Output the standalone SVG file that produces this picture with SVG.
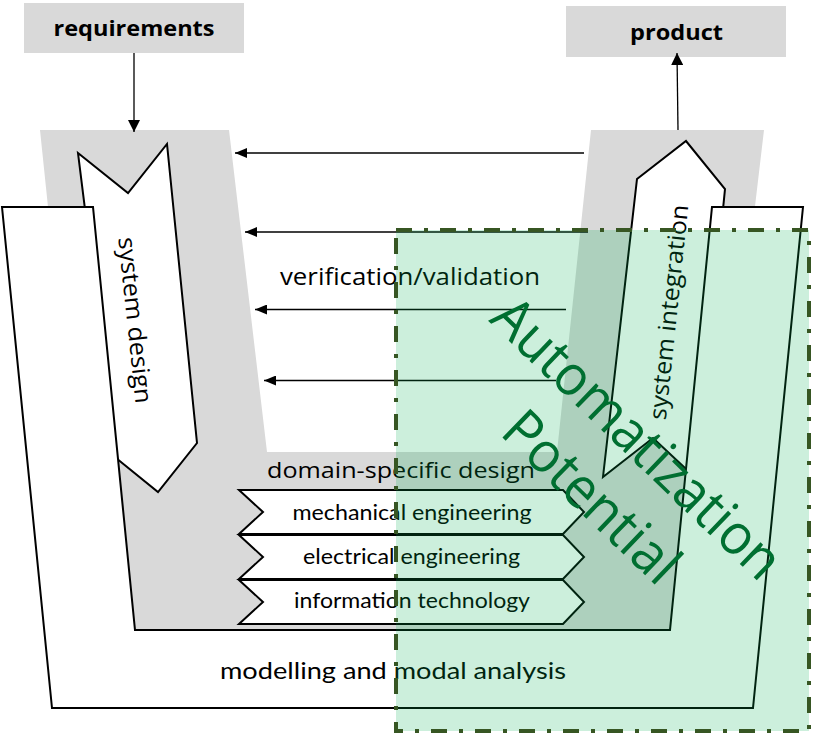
<svg xmlns="http://www.w3.org/2000/svg" width="838" height="735" viewBox="0 0 838 735">
<style>
.box{fill:#d9d9d9;stroke:none}
.shape{fill:#fff;stroke:#000;stroke-width:2;stroke-linejoin:miter}
.conn{stroke:#000;stroke-width:1.3;fill:none}
.t{font-family:"Open Sans","DejaVu Sans",sans-serif;fill:#000}
.c{font-family:Lato,"Liberation Sans",sans-serif;fill:#000}
.b{font-family:"Open Sans","DejaVu Sans",sans-serif;font-weight:bold;fill:#000}
</style>
<defs>
<marker id="ah" markerWidth="12" markerHeight="10" refX="12" refY="5" orient="auto" markerUnits="userSpaceOnUse"><path d="M0,0 L12,5 L0,10 z" fill="#000"/></marker>
<marker id="ahg" markerWidth="12" markerHeight="12" refX="12" refY="6" orient="auto" markerUnits="userSpaceOnUse"><path d="M0,0 L12,6 L0,12 z" fill="#000"/></marker>
</defs>

<g id="vshape">
<polygon class="box" points="40,130 229,130 267,452 557,452 591,130 764,130 705,630 92,630"/>
</g>

<g id="system-design">
<polygon class="shape" points="78,153 128,193 167,144 197,443 158,492 116,458"/>
<text class="t" font-size="24" text-anchor="middle" transform="translate(127,321) rotate(84)" textLength="167" lengthAdjust="spacingAndGlyphs">system design</text>
</g>

<g id="system-integration">
<polygon class="shape" points="637,179 686,141 725,189 696,480 685,468 653,438 603,477"/>
<text class="t" font-size="24" text-anchor="middle" transform="translate(677,313) rotate(-84)" textLength="216" lengthAdjust="spacingAndGlyphs">system integration</text>
</g>

<g id="modelling">
<polygon class="shape" points="2,207 93,207 135,630 670,630 712,207 803,207 753,708 52,708"/>
<text class="c" font-size="24" x="393" y="679" text-anchor="middle" textLength="346" lengthAdjust="spacingAndGlyphs">modelling and modal analysis</text>
</g>

<g id="domain-specific">
<text class="t" font-size="22" x="401" y="478" text-anchor="middle" textLength="268" lengthAdjust="spacingAndGlyphs">domain-specific design</text>
</g>

<g id="mechanical">
<polygon class="shape" points="239,490 563,490 584,512 563,534 239,534 263,512"/>
<text class="c" font-size="21" x="412" y="520" text-anchor="middle" textLength="239" lengthAdjust="spacingAndGlyphs">mechanical engineering</text>
</g>
<g id="electrical">
<polygon class="shape" points="239,535 563,535 584,557 563,579 239,579 263,557"/>
<text class="c" font-size="21" x="411.5" y="564" text-anchor="middle" textLength="217" lengthAdjust="spacingAndGlyphs">electrical engineering</text>
</g>
<g id="information">
<polygon class="shape" points="239,580 563,580 584,602 563,624 239,624 263,602"/>
<text class="c" font-size="21" x="412" y="608" text-anchor="middle" textLength="236" lengthAdjust="spacingAndGlyphs">information technology</text>
</g>

<g id="requirements">
<rect class="box" x="24" y="3" width="220" height="50"/>
<text class="b" font-size="22" x="134" y="36" text-anchor="middle" textLength="161" lengthAdjust="spacingAndGlyphs">requirements</text>
</g>

<g id="product">
<rect class="box" x="566" y="6" width="220" height="51"/>
<text class="b" font-size="22" x="676.5" y="40" text-anchor="middle" textLength="93" lengthAdjust="spacingAndGlyphs">product</text>
</g>

<g id="verification">
<text class="t" font-size="24" x="410" y="285" text-anchor="middle" textLength="260" lengthAdjust="spacingAndGlyphs">verification/validation</text>
</g>

<g id="connectors">
<line class="conn" x1="134" y1="53" x2="134" y2="132" marker-end="url(#ahg)"/>
<line class="conn" x1="678" y1="130" x2="677" y2="53" marker-end="url(#ahg)" stroke="#404040"/>
<line class="conn" x1="584" y1="153" x2="235" y2="153" marker-end="url(#ah)"/>
<line class="conn" x1="588" y1="232" x2="245" y2="232" marker-end="url(#ah)"/>
<line class="conn" x1="566" y1="309.5" x2="255" y2="309.5" marker-end="url(#ah)"/>
<line class="conn" x1="556" y1="380.5" x2="264" y2="380.5" marker-end="url(#ah)"/>
</g>

<g id="automatization">
<rect x="396" y="230" width="413" height="501" fill="#00b050" fill-opacity="0.2" stroke="#375623" stroke-width="4" stroke-dasharray="16 12 4 12"/>
<g transform="translate(624,452) rotate(44)" font-family="'Open Sans','DejaVu Sans',sans-serif" font-size="56" fill="#006f31" text-anchor="middle">
<text x="0" y="0" textLength="378" lengthAdjust="spacingAndGlyphs">Automatization</text>
<text x="8" y="74" textLength="221" lengthAdjust="spacingAndGlyphs">Potential</text>
</g>
</g>
</svg>
